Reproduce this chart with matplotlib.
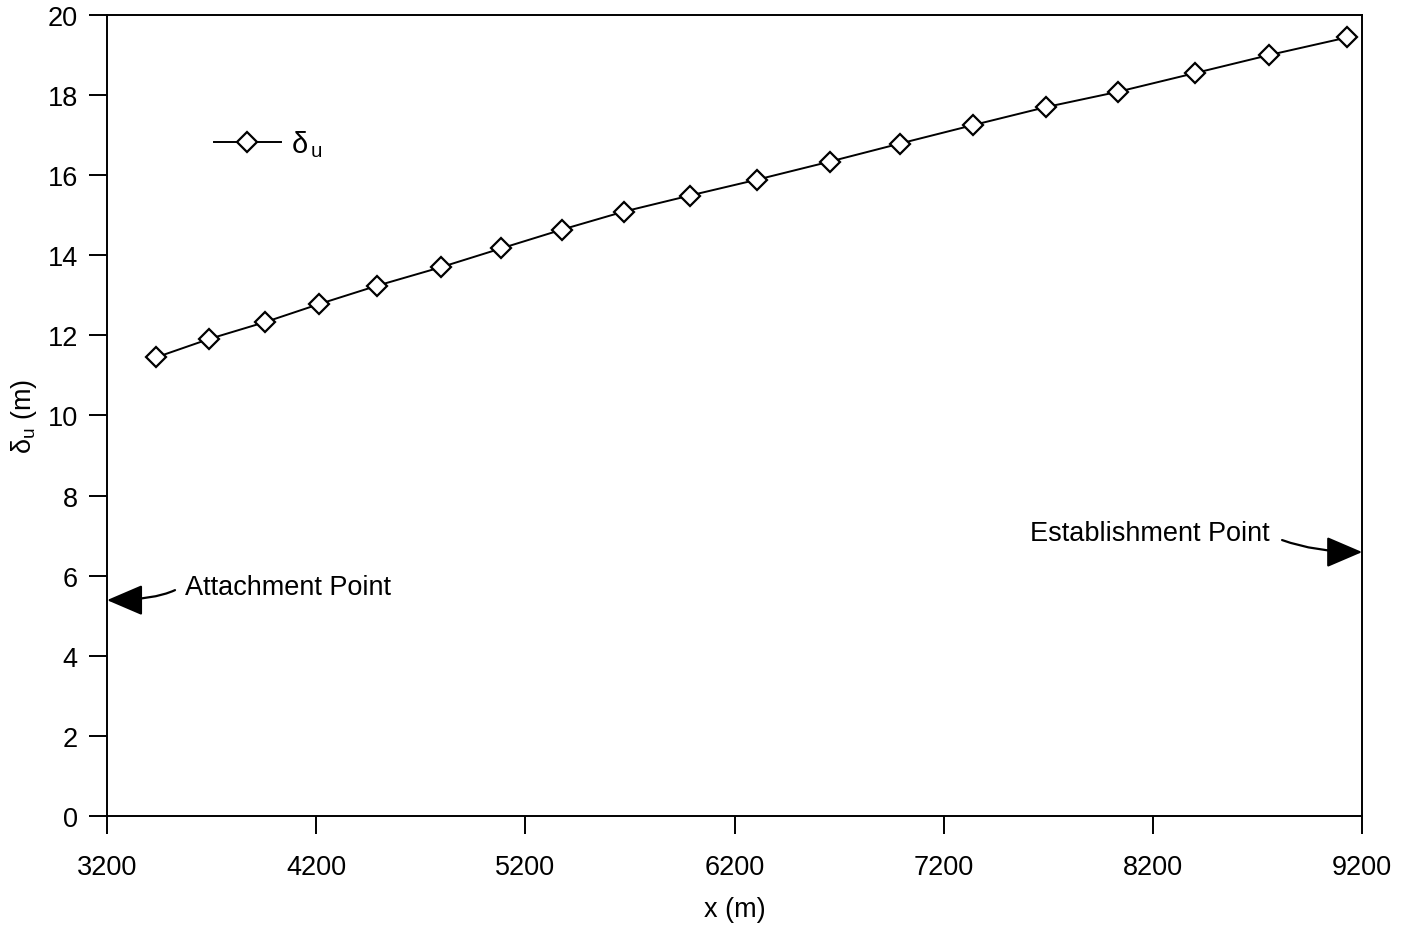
import matplotlib
matplotlib.use('Agg')
import matplotlib.pyplot as plt

plt.rcParams['font.family'] = ['Liberation Sans', 'DejaVu Sans']
plt.rcParams['mathtext.fontset'] = 'custom'
plt.rcParams['mathtext.rm'] = 'Liberation Sans'
plt.rcParams['mathtext.it'] = 'Liberation Sans'

# Distance downstream and upper layer thickness
x_m = [3434, 3688, 3955, 4213, 4491, 4795, 5083, 5374, 5670, 5985,
       6309, 6656, 6991, 7340, 7689, 8031, 8402, 8756, 9129]
delta_u = [11.45, 11.91, 12.33, 12.78, 13.24, 13.70, 14.17, 14.64, 15.09, 15.49,
           15.89, 16.34, 16.79, 17.25, 17.70, 18.08, 18.55, 19.00, 19.44]

x_ticks = [3200, 4200, 5200, 6200, 7200, 8200, 9200]
y_ticks = [0, 2, 4, 6, 8, 10, 12, 14, 16, 18, 20]

# Where the two marked points sit on the side axes
attach_y = 5.39
establish_y = 6.59


def main():
    fig = plt.figure(figsize=(14.1, 9.28), dpi=100)
    ax = fig.add_axes([0.0759, 0.1196, 0.8902, 0.8632])

    ax.plot(x_m, delta_u, color='black', linewidth=1.4, marker='D',
            markersize=10, markerfacecolor='white', markeredgecolor='black',
            markeredgewidth=1.6, label=r'$\mathregular{\delta_{\,u}}$')

    ax.set_xlim(3200, 9200)
    ax.set_ylim(0, 20)
    ax.set_xticks(x_ticks)
    ax.set_yticks(y_ticks)

    for s in ax.spines.values():
        s.set_linewidth(1.4)
    ax.tick_params(axis='both', direction='out', length=13, width=1.4,
                   labelsize=19.5)
    ax.tick_params(axis='x', pad=14)
    ax.tick_params(axis='y', pad=8)

    ax.set_xlabel('x (m)', fontsize=19.5, labelpad=12)
    ax.set_ylabel(r'$\mathregular{\delta_u}$ (m)', fontsize=19.5, labelpad=6)

    ax.legend(loc='upper left', bbox_to_anchor=(0.064, 0.891), frameon=False,
              fontsize=21, handlelength=2.3, handletextpad=0.35)

    # Annotated points at the left and right edges
    head = '-|>,head_length=1.4,head_width=0.6'
    ax.text(3573, 5.72, 'Attachment Point', fontsize=19.5, ha='left', va='center')
    ax.annotate('', xy=(3200, attach_y), xytext=(3525, 5.64),
                annotation_clip=False,
                arrowprops=dict(arrowstyle=head, color='black', lw=1.6,
                                mutation_scale=16, shrinkA=0, shrinkB=0,
                                connectionstyle='angle3,angleA=25,angleB=0'))

    ax.text(8759, 7.07, 'Establishment Point', fontsize=19.5, ha='right', va='center')
    ax.annotate('', xy=(9200, establish_y), xytext=(8817, 6.89),
                annotation_clip=False,
                arrowprops=dict(arrowstyle=head, color='black', lw=1.6,
                                mutation_scale=16, shrinkA=0, shrinkB=0,
                                connectionstyle='angle3,angleA=-20,angleB=0'))

    fig.savefig('out.png', dpi=100)


if __name__ == "__main__":
    main()
